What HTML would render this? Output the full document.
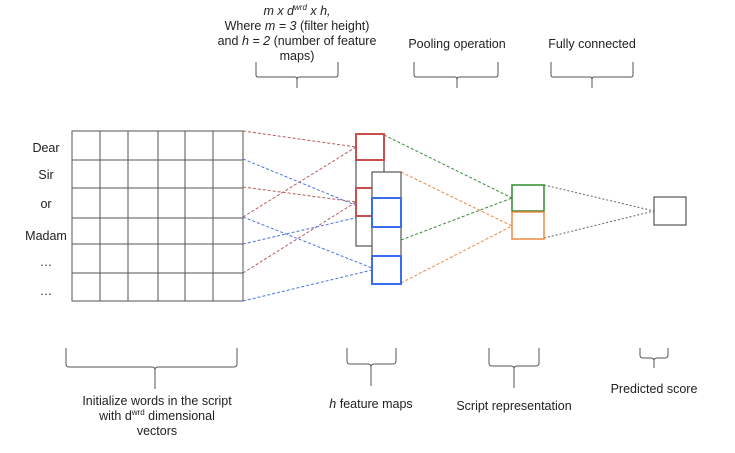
<!DOCTYPE html>
<html><head><meta charset="utf-8"><style>
body{margin:0;background:#fff}
svg text{font-family:"Liberation Sans",Arial,sans-serif;font-size:12.5px;fill:#222}
</style></head><body>
<svg width="735" height="448" viewBox="0 0 735 448" xmlns="http://www.w3.org/2000/svg">
<!-- top labels -->
<text x="297" y="15" text-anchor="middle" font-style="italic">m x d<tspan font-size="8" dy="-5">wrd</tspan><tspan dy="5"> x h,</tspan></text>
<text x="297" y="30" text-anchor="middle">Where <tspan font-style="italic">m = 3</tspan> (filter height)</text>
<text x="297" y="45" text-anchor="middle">and <tspan font-style="italic">h = 2</tspan> (number of feature</text>
<text x="297" y="60" text-anchor="middle">maps)</text>
<text x="457" y="48" text-anchor="middle">Pooling operation</text>
<text x="592" y="48" text-anchor="middle">Fully connected</text>
<!-- top braces -->
<g fill="none" stroke="#555" stroke-width="1">
<path d="M256 62 V75 Q256 77 258 77 H295 Q297 77 297 80 V88 M297 80 Q297 77 299 77 H336 Q338 77 338 75 V62"/>
<path d="M414 62 V75 Q414 77 416 77 H455 Q457 77 457 80 V88 M457 80 Q457 77 459 77 H496 Q498 77 498 75 V62"/>
<path d="M551 62 V75 Q551 77 553 77 H590 Q592 77 592 80 V88 M592 80 Q592 77 594 77 H631 Q633 77 633 75 V62"/>
<!-- bottom braces -->
<path d="M66 348 V364 Q66 367 69 367 H152 Q155 367 155 370 V389 M155 370 Q155 367 158 367 H234 Q237 367 237 364 V348"/>
<path d="M347 348 V361 Q347 364 350 364 H368 Q371 364 371 367 V386 M371 367 Q371 364 374 364 H393 Q396 364 396 361 V348"/>
<path d="M489 348 V363 Q489 366 492 366 H511 Q514 366 514 369 V388 M514 369 Q514 366 517 366 H536 Q539 366 539 363 V348"/>
<path d="M640 348 V355 Q640 358 643 358 H651 Q654 358 654 361 V368 M654 361 Q654 358 657 358 H665 Q668 358 668 355 V348"/>
</g>
<!-- bottom labels -->
<text x="157" y="405" text-anchor="middle">Initialize words in the script</text>
<text x="157" y="420" text-anchor="middle">with d<tspan font-size="8" dy="-5">wrd</tspan><tspan dy="5"> dimensional</tspan></text>
<text x="157" y="435" text-anchor="middle">vectors</text>
<text x="371" y="408" text-anchor="middle"><tspan font-style="italic">h</tspan> feature maps</text>
<text x="514" y="410" text-anchor="middle">Script representation</text>
<text x="654" y="393" text-anchor="middle">Predicted score</text>
<!-- words -->
<g font-size="13">
<text x="46" y="152" text-anchor="middle">Dear</text>
<text x="46" y="179" text-anchor="middle">Sir</text>
<text x="46" y="208" text-anchor="middle">or</text>
<text x="46" y="240" text-anchor="middle">Madam</text>
<text x="46" y="266" text-anchor="middle">…</text>
<text x="46" y="295" text-anchor="middle">…</text>
</g>
<!-- grid -->
<g stroke="#555" stroke-width="1" fill="none">
<rect x="72" y="131" width="171" height="170"/>
<path d="M100 131V301M128 131V301M158 131V301M185 131V301M213 131V301"/>
<path d="M72 160H243M72 188H243M72 218H243M72 244H243M72 273H243"/>
</g>
<!-- dashed connectors -->
<g fill="none" stroke-width="1" stroke-dasharray="3,2">
<g stroke="#b85c5c">
<path d="M243 131L356 147M243 187L356 202M243 217L356 147M243 273L356 202"/>
</g>
<g stroke="#4a74e0">
<path d="M243 159L372 212M243 217L372 268M243 244L372 214M243 301L372 270"/>
</g>
<g stroke="#3a8a3a"><path d="M384 135L512 198M401 240L512 198"/></g>
<g stroke="#ee8844"><path d="M401 172L512 226M401 283L512 226"/></g>
<g stroke="#666" stroke-dasharray="2,2"><path d="M544 185L654 211M544 238L654 211"/></g>
</g>
<!-- feature maps -->
<rect x="356" y="134" width="28" height="112" fill="#fff" stroke="#555" stroke-width="1.2"/>
<rect x="356" y="134" width="28" height="26" fill="none" stroke="#c94f4f" stroke-width="2"/>
<rect x="356" y="188" width="28" height="28" fill="none" stroke="#c94f4f" stroke-width="2"/>
<rect x="372" y="172" width="29" height="112" fill="#fff" stroke="#555" stroke-width="1.2"/>
<rect x="372" y="198" width="29" height="29" fill="none" stroke="#3a6cf0" stroke-width="2"/>
<rect x="372" y="256" width="29" height="28" fill="none" stroke="#3a6cf0" stroke-width="2"/>
<!-- pooled -->
<rect x="512" y="185" width="32" height="26" fill="#fff" stroke="#2f8a2f" stroke-width="1.5"/>
<rect x="512" y="212" width="32" height="27" fill="#fff" stroke="#ee8844" stroke-width="1.5"/>
<!-- output -->
<rect x="654" y="197" width="32" height="28" fill="#fff" stroke="#555" stroke-width="1.2"/>
</svg>
</body></html>
